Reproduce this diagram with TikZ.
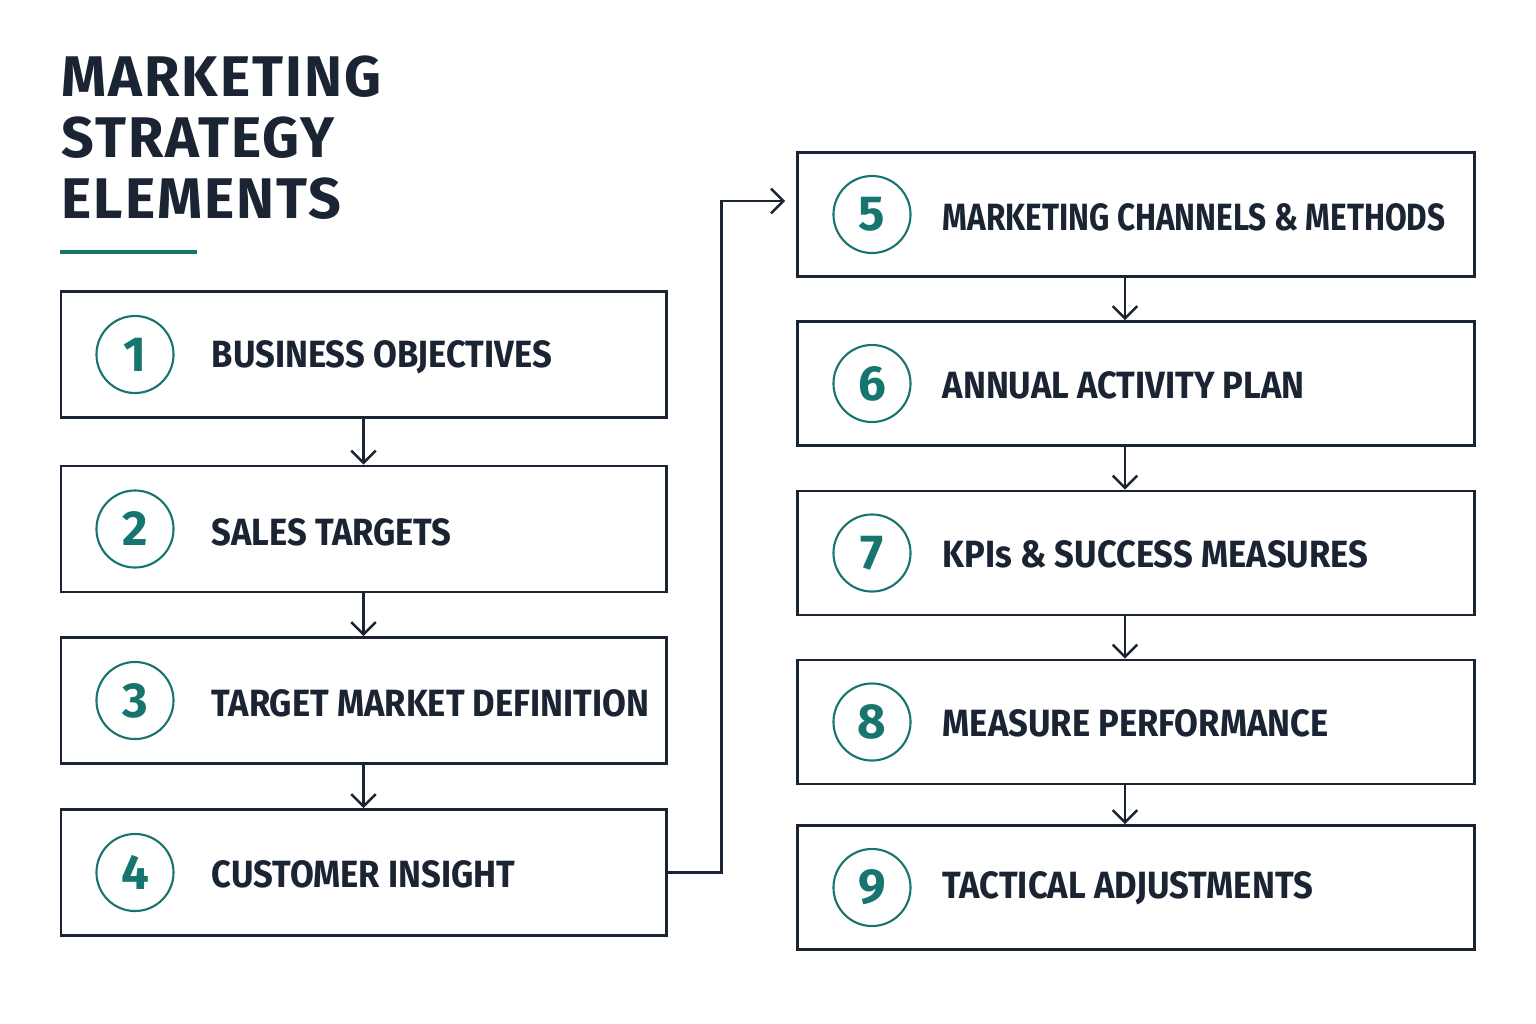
\documentclass[tikz,border=0pt]{standalone}
\usepackage{fontspec}
\setmainfont{Fira Sans}
\usetikzlibrary{arrows.meta}
\definecolor{ink}{HTML}{1B2433}
\definecolor{accent}{HTML}{17756F}

\begin{document}
\begin{tikzpicture}[x=0.01cm,y=-0.01cm,
  every node/.style={inner sep=0pt},
  box/.style={draw=ink, line width=0.75pt, fill=white},
  lbox/.style={box, minimum width=6.05cm, minimum height=1.26cm},
  rbox/.style={box, minimum width=6.76cm, minimum height=1.24cm},
  num/.style={circle, draw=accent, line width=0.6pt, minimum size=0.77cm,
    text=accent, font=\fontsize{14}{15}\selectfont\bfseries},
  lbl/.style={anchor=west, text=ink,
    font=\fontsize{10.8}{12}\selectfont\bfseries\addfontfeatures{FakeStretch=0.91}},
  lbl narrow/.style={lbl,
    font=\fontsize{10.8}{12}\selectfont\bfseries\addfontfeatures{FakeStretch=0.83}},
  arr/.style={draw=ink, line width=0.7pt, -{Straight Barb[length=3.5pt,width=7pt]}}]
\useasboundingbox[fill=white] (0,0) rectangle (1536,1024);

% Title
\node[anchor=north west, align=left, text=ink,
  font=\fontsize{16.3}{17.4}\selectfont\bfseries\addfontfeatures{LetterSpace=3.5}]
  (title) at (61,55) {MARKETING\\STRATEGY\\ELEMENTS};
\draw[accent, line width=0.9pt] (60,252) -- (197,252);

% Left column
\node[lbox] (b1) at (363.5,354.5) {};
\node[lbox] (b2) at (363.5,529) {};
\node[lbox] (b3) at (363.5,700.5) {};
\node[lbox] (b4) at (363.5,872.5) {};

\node[num] (n1) at (135,354.5) {1};
\node[num] (n2) at (135,529) {2};
\node[num] (n3) at (135,700.5) {3};
\node[num] (n4) at (135,872.5) {4};

\node[lbl] (t1) at (211,357) {BUSINESS OBJECTIVES};
\node[lbl] (t2) at (211,532) {SALES TARGETS};
\node[lbl] (t3) at (211,703) {TARGET MARKET DEFINITION};
\node[lbl] (t4) at (211,874) {CUSTOMER INSIGHT};

% Right column
\node[rbox] (b5) at (1136,214.5) {};
\node[rbox] (b6) at (1136,383.5) {};
\node[rbox] (b7) at (1136,553) {};
\node[rbox] (b8) at (1136,722) {};
\node[rbox] (b9) at (1136,887.5) {};

\node[num] (n5) at (872,214.5) {5};
\node[num] (n6) at (872,383.5) {6};
\node[num] (n7) at (872,553) {7};
\node[num] (n8) at (872,722) {8};
\node[num] (n9) at (872,887.5) {9};

\node[lbl narrow] (t5) at (942,217) {MARKETING CHANNELS \& METHODS};
\node[lbl] (t6) at (942,385) {ANNUAL ACTIVITY PLAN};
\node[lbl] (t7) at (942,554) {KPIs \& SUCCESS MEASURES};
\node[lbl] (t8) at (942,723) {MEASURE PERFORMANCE};
\node[lbl] (t9) at (942,888) {TACTICAL ADJUSTMENTS};

% Connectors
\draw[arr] (b1) -- (b2);
\draw[arr] (b2) -- (b3);
\draw[arr] (b3) -- (b4);

\coordinate (in5) at (785,201);
\draw[arr] (b4.east) -- ++(54,0) |- (in5);

\draw[arr] ([xshift=-0.11cm]b5.south) -- ([xshift=-0.11cm]b6.north);
\draw[arr] ([xshift=-0.11cm]b6.south) -- ([xshift=-0.11cm]b7.north);
\draw[arr] ([xshift=-0.11cm]b7.south) -- ([xshift=-0.11cm]b8.north);
\draw[arr] ([xshift=-0.11cm]b8.south) -- ([xshift=-0.11cm]b9.north);
\end{tikzpicture}
\end{document}
